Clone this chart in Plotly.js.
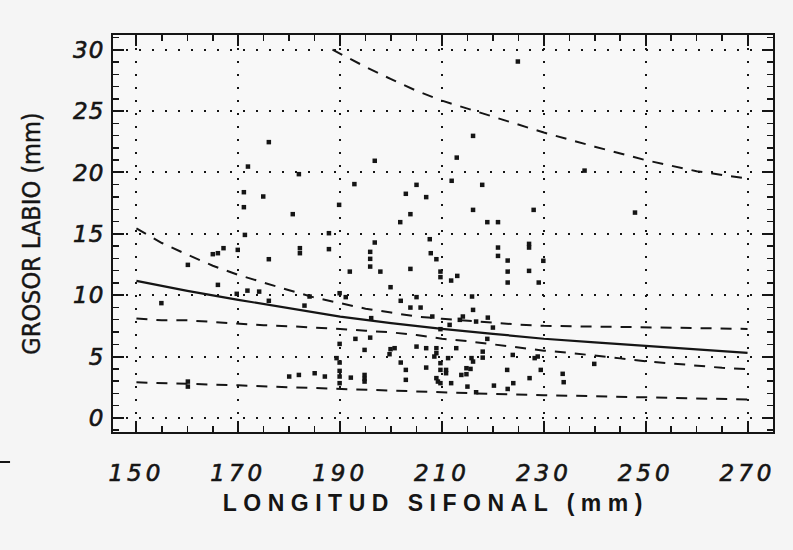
<!DOCTYPE html>
<html><head><meta charset="utf-8">
<script src="https://cdn.plot.ly/plotly-3.0.1.min.js"></script>
<style>
html,body{margin:0;padding:0;background:#f5f5f5;}
#chart{width:793px;height:550px;}
.xtick text{letter-spacing:4px;stroke:#151515;stroke-width:0.6px;}
.ytick text{letter-spacing:1px;stroke:#151515;stroke-width:0.6px;}
</style></head><body><div id="chart"></div>
<script>
// Scatter observations (longitud sifonal mm, grosor labio mm)
const obsX = [176.0,171.9,171.1,174.9,171.1,180.7,189.8,181.9,
  224.9,216.1,212.9,196.8,192.8,205.0,211.9,217.9,202.9,206.9,203.8,216.1,228.0,201.8,218.9,221.0,
  238.0,247.9,
  187.8,171.3,167.1,166.0,165.0,169.9,182.1,182.1,176.0,187.8,160.1,191.9,166.0,154.9,171.8,174.1,176.0,183.0,184.0,189.9,191.1,169.7,
  189.9,189.3,189.9,180.0,181.9,185.0,187.0,189.9,189.9,160.1,160.1,
  196.8,207.6,195.9,195.9,195.9,197.9,207.8,208.9,203.8,199.9,201.9,205.0,203.8,205.8,208.1,196.1,
  221.0,221.0,227.1,227.1,229.9,222.9,209.7,209.7,213.0,211.8,222.9,227.1,222.9,229.0,215.9,216.1,219.0,214.1,
  193.0,195.9,194.8,199.9,199.7,200.7,205.0,206.9,208.9,201.9,206.9,208.9,209.2,202.9,202.9,189.9,192.1,194.8,194.8,194.8,
  213.5,216.7,211.5,209.7,220.0,218.9,212.8,208.9,208.5,211.2,215.8,216.1,218.0,218.0,223.9,228.2,228.8,
  209.7,209.7,210.8,210.8,214.8,215.6,214.8,213.8,222.8,229.4,209.7,211.8,227.2,215.0,220.2,224.0,222.9,216.7,
  233.7,233.9,239.9];
const obsY = [22.47,20.48,18.39,18.04,17.17,16.60,17.36,19.86,
  29.04,22.98,21.21,20.95,19.05,18.99,19.32,18.99,18.26,17.99,16.60,16.95,16.95,15.95,15.95,15.95,
  20.15,16.73,
  15.05,14.91,13.83,13.42,13.34,13.69,13.83,13.42,12.93,13.75,12.47,11.92,10.84,9.35,10.37,10.29,9.54,9.15,9.89,10.16,9.84,10.11,
  6.03,4.87,4.51,3.37,3.50,3.64,3.37,3.37,2.83,2.96,2.55,
  14.29,14.56,13.53,12.96,12.33,11.92,13.42,12.93,12.14,10.65,9.54,9.84,8.99,8.99,8.26,8.13,
  13.88,13.20,14.18,13.88,12.80,12.82,11.92,11.47,11.57,11.19,11.92,11.98,11.03,11.03,9.89,8.80,8.17,8.26,
  6.44,6.54,5.54,5.60,5.19,5.68,5.81,5.68,5.68,4.51,4.10,3.24,2.96,3.91,3.10,3.83,3.28,3.50,3.18,2.96,
  7.99,7.85,7.58,7.23,7.36,6.44,5.68,5.27,5.00,4.87,4.87,4.59,5.40,4.91,5.13,4.87,5.00,
  4.46,3.91,3.91,3.64,4.05,3.99,3.56,3.50,3.91,3.91,2.83,2.83,3.24,2.55,2.63,2.83,2.36,2.09,
  3.59,2.91,4.40];

// Fitted curve (solid)
const fitX = [150,160,170,180,190,200,210,220,230,240,250,260,270];
const fitY = [11.17,10.35,9.62,8.95,8.25,7.72,7.25,6.85,6.45,6.15,5.87,5.58,5.30];

// Dashed curves
const topX = [188.5,195,200,205,210,220,230,240,250,260,270];
const topY = [30.0,28.6,27.6,26.65,25.85,24.55,23.25,22.1,21.0,20.1,19.5];

const upX = [150,155,160,165,170,175,180,185,190,195,200,205,210,215,220,225,230,240,250,260,270];
const upY = [15.45,14.25,13.3,12.4,11.65,11.0,10.4,9.8,9.35,8.9,8.58,8.26,8.08,7.92,7.72,7.6,7.5,7.45,7.42,7.32,7.25];

const midX = [150,155,160,165,170,175,180,185,190,195,200,205,210,215,220,225,230,235,240,245,250,255,260,265,270];
const midY = [8.1,7.95,7.95,7.8,7.65,7.55,7.47,7.37,7.25,7.1,6.97,6.75,6.45,6.25,5.98,5.72,5.48,5.3,5.05,4.85,4.62,4.43,4.25,4.08,3.98];

const lowX = [150,160,170,180,190,200,210,220,230,240,250,260,270];
const lowY = [2.9,2.8,2.65,2.5,2.35,2.2,2.07,1.95,1.85,1.75,1.65,1.55,1.5];

const xTitle = 'LONGITUD SIFONAL (mm)';
const yTitle = 'GROSOR LABIO (mm)';

const ink = '#151515';
const dashLine = (x, y) => ({x, y, type:'scatter', mode:'lines', hoverinfo:'skip',
  line:{color:ink, width:2, dash:'11px,9px'}});

const traces = [
  dashLine(topX, topY), dashLine(upX, upY), dashLine(midX, midY), dashLine(lowX, lowY),
  {x:fitX, y:fitY, type:'scatter', mode:'lines', line:{color:ink, width:2.2}, hoverinfo:'skip'},
  {x:obsX, y:obsY, type:'scatter', mode:'markers', marker:{symbol:'square', size:4.5, color:ink}, hoverinfo:'skip'}
];

const tickFont = {family:'DejaVu Sans', size:23, style:'italic', color:ink};
const axisCommon = {
  showline:true, linecolor:ink, linewidth:2, mirror:'allticks',
  ticks:'inside', ticklen:11, tickwidth:2, tickcolor:ink,
  showgrid:true, gridcolor:ink, gridwidth:2, griddash:'2px,11px',
  zeroline:false, tickfont:tickFont, fixedrange:true
};

const layout = {
  width:793, height:550,
  margin:{l:113, r:20, t:35, b:118},
  paper_bgcolor:'#f5f5f5', plot_bgcolor:'#f8f8f8',
  showlegend:false,
  xaxis:Object.assign({}, axisCommon, {
    range:[145.4,275], tick0:150, dtick:20, ticklabelstandoff:19,
    minor:{dtick:5, tick0:150, ticks:'inside', ticklen:6, tickwidth:1.5, tickcolor:ink, showgrid:false}
  }),
  yaxis:Object.assign({}, axisCommon, {
    range:[-1.15,31.2], tick0:0, dtick:5, ticklabelstandoff:2,
    minor:{dtick:1, tick0:0, ticks:'inside', ticklen:6, tickwidth:1.5, tickcolor:ink, showgrid:false}
  }),
  annotations:[
    {text:xTitle, xref:'paper', yref:'paper', x:0.49, y:-0.179, showarrow:false,
     xanchor:'center', yanchor:'middle',
     font:{family:'Liberation Sans', size:23, weight:'bold', color:ink}},
    {text:yTitle, xref:'paper', yref:'paper', x:-0.124, y:0.5, showarrow:false, textangle:-90,
     xanchor:'center', yanchor:'middle',
     font:{family:"'Liberation Sans Narrow', 'DejaVu Sans Condensed', 'Liberation Sans'", size:25, color:ink}}
  ],
  shapes:[
    {type:'line', xref:'paper', yref:'paper', x0:-0.1712, x1:-0.156, y0:-0.0756, y1:-0.0756,
     line:{color:ink, width:2}}
  ]
};

Plotly.newPlot('chart', traces, layout, {staticPlot:true, displayModeBar:false}).then(() => {
  const ann = document.querySelectorAll('.annotation-text');
  if (ann[0]) ann[0].style.letterSpacing = '6.5px';
  if (ann[1]) { ann[1].style.stroke = ink; ann[1].style.strokeWidth = '0.4px'; }
});
</script></body></html>
